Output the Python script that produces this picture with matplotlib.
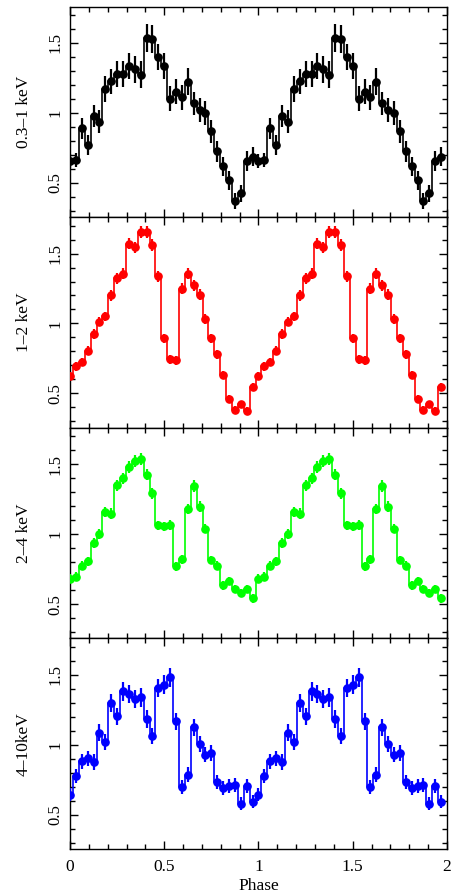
import numpy as np
import matplotlib
matplotlib.use("Agg")
import matplotlib.pyplot as plt
from matplotlib.ticker import MultipleLocator

plt.rcParams['font.family'] = ['Liberation Serif', 'DejaVu Serif']
plt.rcParams['mathtext.fontset'] = 'stix'

nbins = 32
phase_one = [i / nbins for i in range(nbins)]

band_labels = ["0.3\u20131 keV", "1\u20132 keV", "2\u20134 keV", "4\u201310keV"]
band_colors = ["#000000", "#ff0000", "#00ff00", "#0000ff"]

soft = [0.655, 0.66, 0.89, 0.77, 0.979, 0.938, 1.171, 1.226, 1.279, 1.279, 1.336, 1.31,
        1.274, 1.533, 1.529, 1.398, 1.336, 1.10, 1.152, 1.11, 1.224, 1.067, 1.021, 1.0,
        0.867, 0.724, 0.617, 0.517, 0.371, 0.426, 0.657, 0.688]
soft_err = [0.05, 0.05, 0.075, 0.07, 0.08, 0.08, 0.09, 0.09, 0.095, 0.095, 0.095, 0.095,
            0.095, 0.10, 0.10, 0.095, 0.095, 0.09, 0.09, 0.09, 0.095, 0.085, 0.085, 0.085,
            0.08, 0.075, 0.07, 0.065, 0.055, 0.06, 0.07, 0.07]

med = [0.626, 0.694, 0.725, 0.806, 0.924, 1.014, 1.05, 1.201, 1.322, 1.355, 1.571, 1.543,
       1.652, 1.652, 1.562, 1.336, 0.893, 0.744, 0.737, 1.249, 1.355, 1.273, 1.206, 1.031,
       0.893, 0.78, 0.633, 0.462, 0.384, 0.422, 0.374, 0.545]
med_err = [0.03, 0.03, 0.03, 0.032, 0.034, 0.035, 0.035, 0.038, 0.04, 0.04, 0.042, 0.042,
           0.043, 0.043, 0.042, 0.04, 0.035, 0.032, 0.032, 0.038, 0.04, 0.038, 0.038, 0.035,
           0.034, 0.032, 0.03, 0.028, 0.026, 0.027, 0.026, 0.029]

hard = [0.682, 0.697, 0.775, 0.806, 0.938, 1.0, 1.156, 1.147, 1.348, 1.40, 1.481, 1.521,
        1.538, 1.424, 1.291, 1.062, 1.055, 1.064, 0.77, 0.822, 1.18, 1.344, 1.197, 1.04,
        0.815, 0.775, 0.633, 0.666, 0.609, 0.578, 0.609, 0.54]
hard_err = [0.03, 0.03, 0.032, 0.032, 0.034, 0.035, 0.037, 0.037, 0.04, 0.04, 0.042, 0.042,
            0.042, 0.04, 0.039, 0.035, 0.035, 0.035, 0.032, 0.032, 0.038, 0.04, 0.038, 0.035,
            0.032, 0.032, 0.03, 0.03, 0.03, 0.029, 0.03, 0.029]

vhard = [0.643, 0.779, 0.881, 0.902, 0.876, 1.086, 1.021, 1.298, 1.202, 1.381, 1.362, 1.329,
         1.338, 1.183, 1.062, 1.405, 1.429, 1.483, 1.167, 0.695, 0.786, 1.124, 1.002, 0.929,
         0.943, 0.736, 0.69, 0.705, 0.71, 0.579, 0.702, 0.593]
vhard_err = [0.045, 0.05, 0.055, 0.055, 0.055, 0.06, 0.058, 0.065, 0.062, 0.066, 0.066, 0.065,
             0.065, 0.062, 0.058, 0.066, 0.066, 0.068, 0.062, 0.05, 0.053, 0.06, 0.057, 0.055,
             0.056, 0.05, 0.05, 0.05, 0.05, 0.046, 0.05, 0.046]

series = [(soft, soft_err), (med, med_err), (hard, hard_err), (vhard, vhard_err)]

W, H = 452, 892
fig = plt.figure(figsize=(W / 100, H / 100), dpi=100)
left, right = 70 / W, 447 / W
top_px, bot_px = 6.5, 849
ph = (bot_px - top_px) / 4

phase = np.array(phase_one + [p + 1 for p in phase_one])

axes = []
for k, ((vals, errs), lab, col) in enumerate(zip(series, band_labels, band_colors)):
    y0 = top_px + k * ph
    ax = fig.add_axes([left, 1 - (y0 + ph) / H, right - left, ph / H])
    axes.append(ax)
    v = np.array(vals + vals)
    e = np.array(errs + errs)
    ax.plot(phase, v, drawstyle='steps-mid', color=col, lw=1.2, zorder=2)
    ax.errorbar(phase, v, yerr=e, fmt='o', color=col, ms=5.2, elinewidth=1.6,
                capsize=0, zorder=3)
    ax.set_xlim(0, 2)
    ax.set_ylim(0.255, 1.76)
    ax.xaxis.set_major_locator(MultipleLocator(0.5))
    ax.xaxis.set_minor_locator(MultipleLocator(0.1))
    ax.yaxis.set_major_locator(MultipleLocator(0.5))
    ax.yaxis.set_minor_locator(MultipleLocator(0.1))
    ax.tick_params(which='both', direction='in', top=True, right=True, width=1.0)
    ax.tick_params(which='major', length=6)
    ax.tick_params(which='minor', length=3.5)
    ax.set_yticks([0.5, 1.0, 1.5])
    ax.set_yticklabels(['0.5', '1', '1.5'], rotation=90, va='center', fontsize=12)
    ax.tick_params(axis='y', pad=5)
    ax.set_ylabel(lab, fontsize=12.5, labelpad=11)
    for s in ax.spines.values():
        s.set_linewidth(1.0)
    if k < 3:
        ax.tick_params(labelbottom=False)
    else:
        ax.set_xticks([0, 0.5, 1, 1.5, 2])
        ax.set_xticklabels(['0', '0.5', '1', '1.5', '2'], fontsize=12.5)
        ax.tick_params(axis='x', pad=7)
        ax.set_xlabel('Phase', fontsize=12.5, labelpad=2)

fig.align_ylabels(axes)
fig.savefig('out.png', dpi=100)
